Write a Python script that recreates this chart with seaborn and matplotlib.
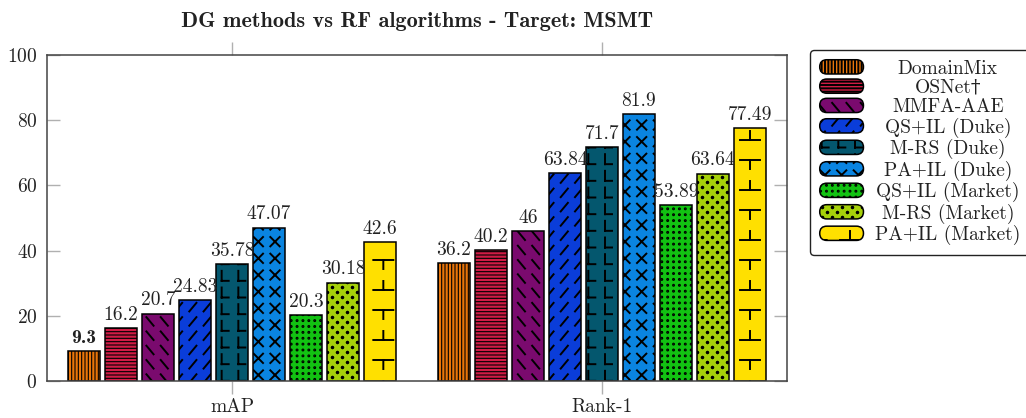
import warnings
warnings.filterwarnings('ignore')
import numpy as np
import pandas as pd
import matplotlib
matplotlib.use('Agg')
import matplotlib.pyplot as plt
import matplotlib.hatch as mhatch
from matplotlib.path import Path
from matplotlib.patches import Patch, FancyBboxPatch
from matplotlib.legend_handler import HandlerPatch
import seaborn as sns

# ---------------- data ----------------
methods = ['DomainMix', 'OSNet\u2020', 'MMFA-AAE', 'QS+IL (Duke)', 'M-RS (Duke)',
           'PA+IL (Duke)', 'QS+IL (Market)', 'M-RS (Market)', 'PA+IL (Market)']
metrics = ['mAP', 'Rank-1']
map_values = [9.3, 16.2, 20.7, 24.83, 35.78, 47.07, 20.3, 30.18, 42.6]
rank1_values = [36.2, 40.2, 46, 63.84, 71.7, 81.9, 53.89, 63.64, 77.49]
y_ticks = [0, 20, 40, 60, 80, 100]
title = 'DG methods vs RF algorithms - Target: MSMT'

colors = ['#E8750A', '#D01C45', '#7A0A6E', '#0A3DD9', '#04576E',
          '#0A84E0', '#12C212', '#A6D10A', '#FFE000']
hatches = ['|||||', '-----', 'B', 'S', 'L', 'K', 'D', 'P', 'T']


# ---------------- custom hatch patterns ----------------
def _segs_path(segs):
    v = np.asarray(segs, float).reshape(-1, 2)
    c = np.tile([Path.MOVETO, Path.LINETO], len(segs)).astype(Path.code_type)
    return v, c


def _grid(nx, ny, proto):
    segs = []
    for i in range(nx):
        for j in range(ny):
            for (x0, y0), (x1, y1) in proto:
                segs.append([((i + x0) / nx, (j + y0) / ny),
                             ((i + x1) / nx, (j + y1) / ny)])
    return _segs_path(segs)


def _dots(nx, ny, centers, r, k=8):
    verts, codes = [], []
    ang = np.linspace(0, 2 * np.pi, k, endpoint=False)
    for i in range(nx):
        for j in range(ny):
            for cx, cy in centers:
                x = (i + cx) / nx
                y = (j + cy) / ny
                pts = np.c_[x + r * np.cos(ang), y + r * np.sin(ang)]
                verts.extend(pts.tolist())
                verts.append([x, y])
                codes.extend([Path.MOVETO] + [Path.LINETO] * (k - 1) + [Path.CLOSEPOLY])
    return np.array(verts), np.array(codes, dtype=Path.code_type)


_CUSTOM = {
    'B': _grid(7, 7, [((0.25, 0.8), (0.75, 0.2))]),
    'S': _grid(7, 7, [((0.25, 0.2), (0.75, 0.8))]),
    'L': _grid(6, 6, [((0.3, 0.15), (0.3, 0.75)), ((0.3, 0.15), (0.72, 0.15))]),
    'K': _grid(6, 6, [((0.22, 0.22), (0.78, 0.78)), ((0.22, 0.78), (0.78, 0.22))]),
    'D': _dots(17, 17, [(0.5, 0.5)], 0.005),
    'P': _dots(10, 10, [(0.25, 0.25), (0.75, 0.75)], 0.008),
    'T': _grid(3, 2, [((0.2, 0.8), (0.8, 0.8)), ((0.5, 0.8), (0.5, 0.62)),
                      ((0.2, 0.2), (0.8, 0.2)), ((0.5, 0.2), (0.5, 0.38))]),
}


class CustomHatch(mhatch.HatchPatternBase):
    def __init__(self, hatch, density):
        self.parts = [_CUSTOM[c] for c in hatch if c in _CUSTOM]
        self.num_vertices = sum(len(v) for v, _ in self.parts)

    def set_vertices_and_codes(self, vertices, codes):
        i = 0
        for v, c in self.parts:
            n = len(v)
            vertices[i:i + n] = v
            codes[i:i + n] = c
            i += n


mhatch._hatch_types.append(CustomHatch)

# ---------------- style ----------------
sns.set_style('white')
plt.rcParams['font.family'] = ['cmr10', 'DejaVu Serif']
plt.rcParams['axes.formatter.use_mathtext'] = True
plt.rcParams['mathtext.fontset'] = 'cm'
plt.rcParams['hatch.linewidth'] = 1.4

FS = 14.0
TEXT = '#222222'

fig = plt.figure(figsize=(10.26, 4.18), dpi=100)
ax = fig.add_axes([47 / 1026, 1 - 381 / 418, 740 / 1026, 326 / 418])

df = pd.DataFrame({
    'metric': np.repeat(metrics, len(methods)),
    'method': methods * len(metrics),
    'value': map_values + rank1_values,
})

sns.barplot(data=df, x='metric', y='value', hue='method', order=metrics,
            hue_order=methods, palette=colors, saturation=1, width=0.9, gap=0.15,
            edgecolor='black', linewidth=1.1, errorbar=None, legend=False, ax=ax)

for i, cont in enumerate(ax.containers):
    for bar in cont:
        bar.set_hatch(hatches[i])
        if i < 2 and hasattr(bar, 'set_hatch_linewidth'):
            bar.set_hatch_linewidth(0.8)
    labels = [f'{map_values[i]:g}', f'{rank1_values[i]:g}']
    txts = ax.bar_label(cont, labels=labels, padding=3, fontsize=FS, color=TEXT)
    if i == 0:
        txts[0].set_fontfamily(['cmb10', 'DejaVu Serif'])

ax.set_xlim(-0.5, 1.5)
ax.set_ylim(0, 100)
ax.set_yticks(y_ticks)
ax.set_xlabel('')
ax.set_ylabel('')
ax.tick_params(axis='y', direction='in', length=9.5, width=1.0, color='#b0b0b0',
               left=True, right=True, labelsize=FS, pad=7, labelcolor=TEXT)
ax.tick_params(axis='x', direction='out', length=9.5, width=1.0, color='#b0b0b0',
               top=True, bottom=True, labelsize=FS, pad=3, labelcolor=TEXT)
for s in ax.spines.values():
    s.set_visible(True)
    s.set_color('#444444')
    s.set_linewidth(1.1)

ax.set_title(title, fontfamily=['cmb10', 'DejaVu Serif'], fontsize=16, pad=20, color=TEXT)


# ---------------- legend ----------------
def round_patch(legend, orig_handle, xdescent, ydescent, width, height, fontsize):
    return FancyBboxPatch((-xdescent, -ydescent), width, height,
                          boxstyle=f'round,pad=0,rounding_size={height / 2:.3f}')


handles = [Patch(facecolor=c, edgecolor='black', hatch=h, linewidth=1.1)
           for c, h in zip(colors, hatches)]
leg = fig.legend(handles, methods, loc='upper left',
                 bbox_to_anchor=(810 / 1026, 1 - 50 / 418), borderaxespad=0,
                 fontsize=FS, handlelength=2.25, handleheight=0.75,
                 labelspacing=0.07, handletextpad=0.6, borderpad=0.5,
                 fancybox=True, framealpha=1, edgecolor='#222222',
                 handler_map={Patch: HandlerPatch(patch_func=round_patch)})
leg.get_frame().set_linewidth(1.0)
for t in leg.get_texts():
    t.set_color(TEXT)

# center legend labels within their column
fig.canvas.draw()
renderer = fig.canvas.get_renderer()
widths = [t.get_window_extent(renderer).width for t in leg.get_texts()]
wmax = max(widths)
for t, w in zip(leg.get_texts(), widths):
    t.set_position(((wmax - w) / 2, 0))

fig.savefig('out.png', dpi=100)
